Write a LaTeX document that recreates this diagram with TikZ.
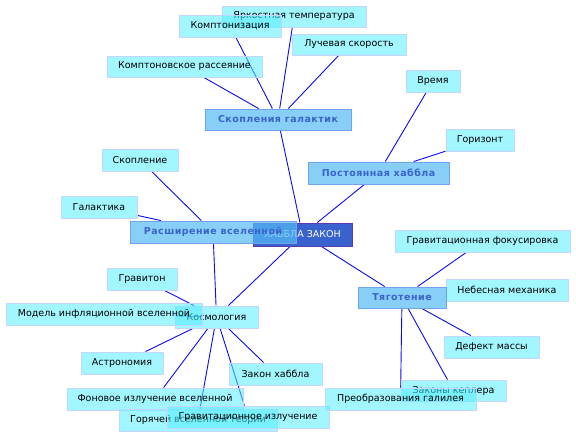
\documentclass[tikz,border=0pt]{standalone}
\usepackage{fontspec}
\setmainfont{DejaVu Sans}
\newfontfamily\headfont[LetterSpace=5]{DejaVu Sans}
\usetikzlibrary{backgrounds}
\definecolor{leaffill}{HTML}{55EEFF}
\definecolor{leafdraw}{HTML}{C4D6FF}
\definecolor{headfill}{HTML}{55BBF5}
\definecolor{headdraw}{HTML}{70A4EE}
\definecolor{headtext}{HTML}{3A62CC}
\definecolor{hubfill}{HTML}{3A62CF}
\definecolor{hubdraw}{HTML}{5A3AAE}
\definecolor{edgecol}{HTML}{0A0AF5}
\tikzset{
  box/.style={rectangle, inner sep=0pt, line width=0.9pt, text opacity=1},
  leaf/.style={box, draw=leafdraw, fill=leaffill, fill opacity=0.55, draw opacity=1,
    font=\fontsize{9.5}{11}\selectfont, text=black},
  head/.style={box, draw=headdraw, fill=headfill, fill opacity=0.7, draw opacity=1,
    font=\headfont\bfseries\fontsize{9.5}{11}\selectfont, text=headtext},
  hub/.style={box, draw=hubdraw, fill=hubfill, font=\fontsize{9.5}{11}\selectfont, text=white},
  edge/.style={draw=edgecol, line width=0.9pt},
}
\begin{document}
\begin{tikzpicture}[x=1pt,y=-1pt]
\useasboundingbox (0,0) rectangle (576,437);
% nodes
\node[leaf, minimum width=144pt, minimum height=21pt] (yark) at (294,16.5) {Яркостная температура};
\node[leaf, minimum width=102pt, minimum height=22pt] (kompt) at (230,26) {Комптонизация};
\node[leaf, minimum width=114pt, minimum height=21pt] (luch) at (349,44.5) {Лучевая скорость};
\node[leaf, minimum width=155pt, minimum height=21pt] (kras) at (184.5,66.5) {Комптоновское рассеяние};
\node[head, minimum width=146pt, minimum height=21pt] (skop) at (278,119.5) {Скопления галактик};
\node[leaf, minimum width=54pt, minimum height=22pt] (vrem) at (433,81) {Время};
\node[leaf, minimum width=68pt, minimum height=22pt] (gor) at (480,140) {Горизонт};
\node[head, minimum width=141pt, minimum height=22pt] (post) at (378.5,173) {Постоянная хаббла};
\node[leaf, minimum width=76pt, minimum height=22pt] (skopl) at (140,160) {Скопление};
\node[leaf, minimum width=76pt, minimum height=22pt] (gal) at (99,207) {Галактика};
\node[hub, minimum width=99pt, minimum height=23pt] (hub) at (302.5,234.5) {ХАББЛА ЗАКОН};
\node[head, minimum width=166pt, minimum height=22pt] (rash) at (213,232) {Расширение вселенной};
\node[leaf, minimum width=175pt, minimum height=22pt] (gfok) at (482.5,241) {Гравитационная фокусировка};
\node[leaf, minimum width=122pt, minimum height=22pt] (neb) at (507,290) {Небесная механика};
\node[head, minimum width=88pt, minimum height=21pt] (tyag) at (402,297.5) {Тяготение};
\node[leaf, minimum width=70pt, minimum height=22pt] (grav) at (142,279) {Гравитон};
\node[leaf, minimum width=83pt, minimum height=22pt] (kosm) at (216.5,317) {Космология};
\node[leaf, minimum width=196pt, minimum height=22pt] (model) at (104,314) {Модель инфляционной вселенной};
\node[leaf, minimum width=82pt, minimum height=22pt] (astr) at (122,363) {Астрономия};
\node[leaf, minimum width=93pt, minimum height=22pt] (zakh) at (275.5,374) {Закон хаббла};
\node[leaf, minimum width=176pt, minimum height=22pt] (fon) at (155,399) {Фоновое излучение вселенной};
\node[leaf, minimum width=158pt, minimum height=22pt] (gor2) at (198,420) {Горячей вселенной теории};
\node[leaf, minimum width=162pt, minimum height=22pt] (gizl) at (248,417) {Гравитационное излучение};
\node[leaf, minimum width=95pt, minimum height=22pt] (def) at (491.5,347) {Дефект массы};
\node[leaf, minimum width=105pt, minimum height=21pt] (kepl) at (453.5,390.5) {Законы кеплера};
\node[leaf, minimum width=151pt, minimum height=22pt] (gal2) at (400.5,399) {Преобразования галилея};
% edges
\begin{pgfonlayer}{background}
\draw[edge] (hub) -- (skop);
\draw[edge] (hub) -- (post);
\draw[edge] (hub) -- (tyag);
\draw[edge] (hub) -- (kosm);
\draw[edge] (skop) -- (yark);
\draw[edge] (skop) -- (kompt);
\draw[edge] (skop) -- (luch);
\draw[edge] (skop) -- (kras);
\draw[edge] (post) -- (vrem);
\draw[edge] (post) -- (gor);
\draw[edge] (rash) -- (skopl);
\draw[edge] (rash) -- (gal);
\draw[edge] (rash) -- (kosm);
\draw[edge] (tyag) -- (gfok);
\draw[edge] (tyag) -- (neb);
\draw[edge] (tyag) -- (def);
\draw[edge] (tyag) -- (kepl);
\draw[edge] (tyag) -- (gal2);
\draw[edge] (kosm) -- (grav);
\draw[edge] (kosm) -- (model);
\draw[edge] (kosm) -- (astr);
\draw[edge] (kosm) -- (zakh);
\draw[edge] (kosm) -- (fon);
\draw[edge] (kosm) -- (gor2);
\draw[edge] (kosm) -- (gizl);
\end{pgfonlayer}
\end{tikzpicture}
\end{document}
